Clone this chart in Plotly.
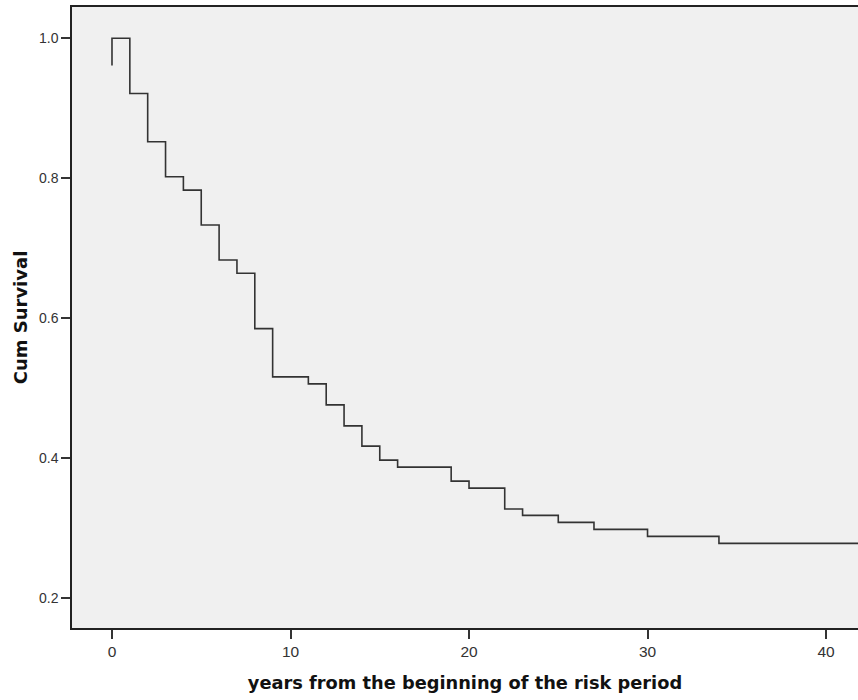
import plotly.graph_objects as go

# Kaplan-Meier step curve (time in years, cumulative survival)
times = [0, 0, 1, 2, 3, 4, 5, 6, 7, 8, 9, 11, 12, 13, 14, 15, 16, 19, 20, 22, 23, 25, 27, 30, 34, 42]
survival = [0.961, 1.0, 0.921, 0.852, 0.802, 0.783, 0.733, 0.683, 0.664, 0.585, 0.516, 0.506,
            0.476, 0.446, 0.417, 0.397, 0.387, 0.367, 0.357, 0.327, 0.318, 0.308, 0.298,
            0.288, 0.278, 0.278]

x_ticks = [0, 10, 20, 30, 40]
y_ticks = [0.2, 0.4, 0.6, 0.8, 1.0]
y_tick_labels = ["0.2", "0.4", "0.6", "0.8", "1.0"]

fig = go.Figure()
fig.add_trace(go.Scatter(
    x=times, y=survival, mode="lines",
    line=dict(shape="hv", color="#333333", width=1.6),
    hoverinfo="x+y", showlegend=False,
))

fig.update_layout(
    width=858, height=700,
    margin=dict(l=72, r=0, t=7, b=72),
    paper_bgcolor="white",
    plot_bgcolor="#f0f0f0",
    font=dict(family="Liberation Sans, Arial, sans-serif", color="#222"),
    xaxis=dict(
        range=[-2.24, 41.79], tickvals=x_ticks, ticks="outside", ticklen=9,
        tickcolor="#333", tickwidth=1.5, showgrid=False, zeroline=False,
        showline=True, linecolor="#222", linewidth=1.5, mirror=True,
        tickfont=dict(family="Liberation Sans, Arial", size=15.5, color="#333"),
        title=dict(text="<b>years from the beginning of the risk period</b>",
                   font=dict(family="DejaVu Sans, Verdana, sans-serif", size=17.8, color="#111"),
                   standoff=17),
    ),
    yaxis=dict(
        range=[0.157, 1.0447], tickvals=y_ticks, ticktext=y_tick_labels, ticks="outside", ticklen=9,
        tickcolor="#333", tickwidth=1.5, showgrid=False, zeroline=False,
        showline=True, linecolor="#222", linewidth=1.5, mirror=False,
        tickfont=dict(family="Liberation Sans, Arial", size=14, color="#333"),
        title=dict(text="<b>Cum Survival</b>",
                   font=dict(family="DejaVu Sans, Verdana, sans-serif", size=18, color="#111"),
                   standoff=7),
    ),
)

fig.write_html(
    "out.html",
    config={"displayModeBar": False},
    post_script="document.body.style.margin='0';document.body.style.overflow='hidden';",
)
